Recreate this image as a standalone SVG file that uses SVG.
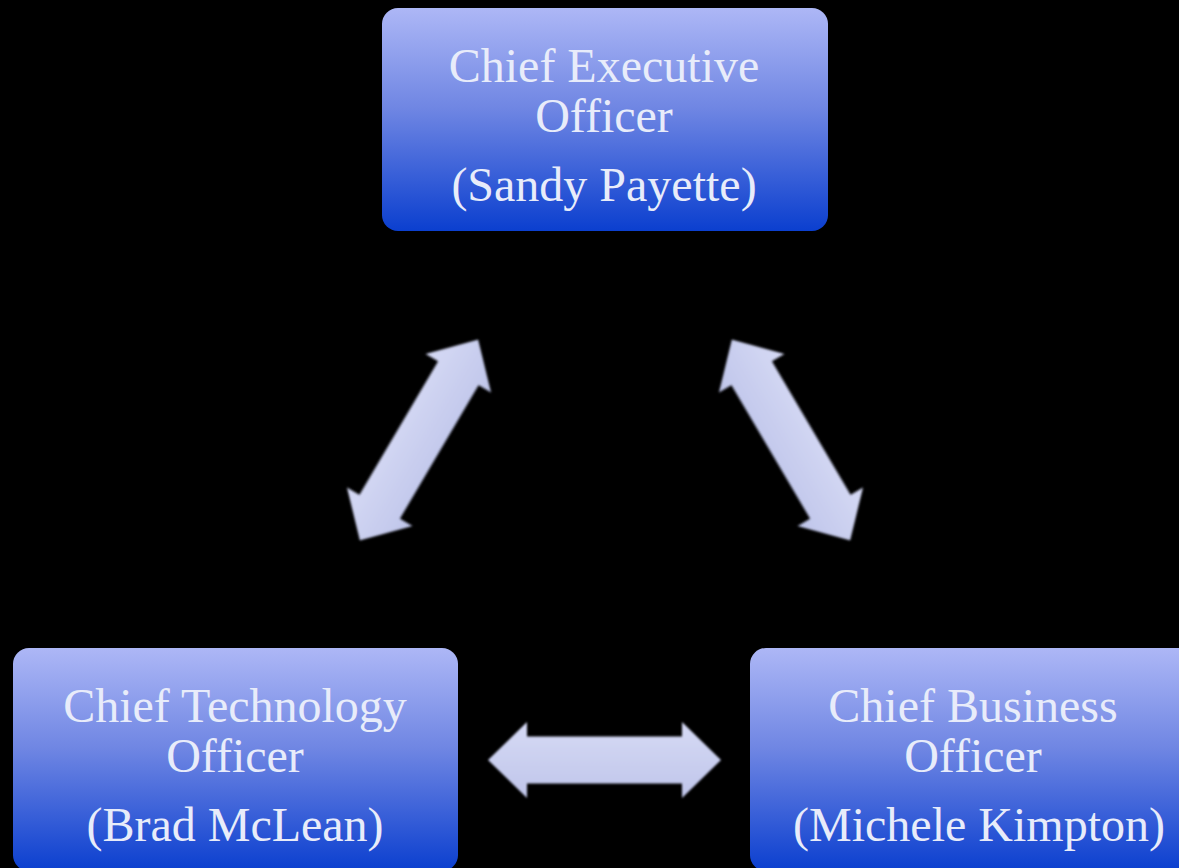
<svg xmlns="http://www.w3.org/2000/svg" width="1179" height="868" viewBox="0 0 1179 868">
  <defs>
    <linearGradient id="boxGrad" x1="0" y1="0" x2="0" y2="1">
      <stop offset="0" stop-color="#adb7f6"/>
      <stop offset="0.45" stop-color="#6f86e3"/>
      <stop offset="1" stop-color="#0b3fcf"/>
    </linearGradient>
    <linearGradient id="arrowGrad" x1="0" y1="0" x2="0" y2="1">
      <stop offset="0" stop-color="#d6daf5"/>
      <stop offset="1" stop-color="#bfc5ea"/>
    </linearGradient>
    <filter id="soft" x="-10%" y="-10%" width="120%" height="120%">
      <feGaussianBlur stdDeviation="0.8"/>
    </filter>
    <path id="dblArrow" d="M -116.5 0 L -77.5 -38 L -77.5 -23.5 L 77.5 -23.5 L 77.5 -38 L 116.5 0 L 77.5 38 L 77.5 23.5 L -77.5 23.5 L -77.5 38 Z"/>
  </defs>
  <style>
    .box { fill: url(#boxGrad); }
    .label { font-family: "Liberation Serif", "Times New Roman", serif; font-size: 48px; fill: #e8ecfa; text-anchor: middle; }
    .arrow { fill: url(#arrowGrad); filter: url(#soft); }
  </style>
  <rect x="0" y="0" width="1179" height="868" fill="#000000"/>

  <g id="connectors">
    <use href="#dblArrow" class="arrow" transform="translate(604.5 760)"/>
    <use href="#dblArrow" class="arrow" transform="translate(419 440) rotate(-59.5)"/>
    <use href="#dblArrow" class="arrow" transform="translate(791 440) rotate(59.5)"/>
  </g>

  <g id="ceo">
    <rect class="box" x="382" y="8" width="446" height="223" rx="16"/>
    <text class="label" x="604" y="82">Chief Executive</text>
    <text class="label" x="604" y="132">Officer</text>
    <text class="label" x="604" y="201">(Sandy Payette)</text>
  </g>

  <g id="cto">
    <rect class="box" x="13" y="648" width="445" height="223" rx="16"/>
    <text class="label" x="235" y="722">Chief Technology</text>
    <text class="label" x="235" y="772">Officer</text>
    <text class="label" x="235" y="841">(Brad McLean)</text>
  </g>

  <g id="cbo">
    <rect class="box" x="750" y="648" width="446" height="223" rx="16"/>
    <text class="label" x="973" y="722">Chief Business</text>
    <text class="label" x="973" y="772">Officer</text>
    <text class="label" x="979" y="841">(Michele Kimpton)</text>
  </g>
</svg>
